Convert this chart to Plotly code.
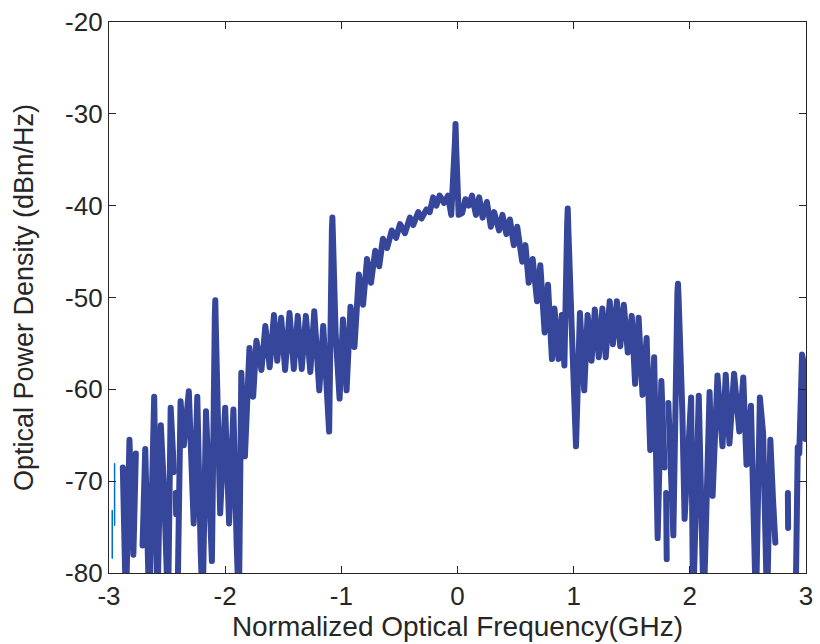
import plotly.graph_objects as go

# Optical spectrum samples (frequency offset in GHz, power density in dBm/Hz).
# None marks samples with no finite power (line breaks); values below -80 dBm/Hz
# fall off the bottom of the axis.
freq_ghz = [
    -2.881, -2.854, -2.824, -2.790, -2.769, None,
    -2.711, -2.688, -2.654, -2.611, -2.583, -2.554, -2.526, -2.492, -2.469, -2.441, None,
    -2.426, -2.422, None,
    -2.411, -2.396, -2.384, -2.356, -2.313, -2.271, -2.240, -2.211, -2.194, -2.165,
    -2.142, -2.114, -2.089, -2.085, -2.081, -2.043, -2.000, -1.966, -1.929, -1.901, -1.882, -1.861,
    -1.830, -1.791, -1.759, -1.731, -1.688, -1.654, -1.617, -1.580, -1.552, -1.518,
    -1.484, -1.446, -1.409, -1.375, -1.341, -1.305, -1.267, -1.233, -1.190, -1.156,
    -1.105, -1.081, -1.077, -1.073, -1.049, -1.015, -0.986, -0.955, -0.921, -0.887, -0.849, -0.813,
    -0.779, -0.745, -0.708, -0.674, -0.642, -0.606, -0.566, -0.529, -0.495, -0.452,
    -0.410, -0.381, -0.338, -0.310, -0.267, -0.239, -0.210, -0.182, -0.154, -0.116,
    -0.082, -0.054, -0.022, -0.017, -0.012, 0.010, 0.040, 0.068, 0.097, 0.125, 0.159, 0.187, 0.216,
    0.253, 0.287, 0.315, 0.358, 0.387, 0.421, 0.451, 0.485, 0.514, 0.557,
    0.585, 0.613, 0.647, 0.685, 0.713, 0.750, 0.779, 0.813, 0.835, 0.869,
    0.898, 0.920, 0.944, 0.949, 0.954, 0.983, 1.005, 1.020, 1.054, 1.091, 1.120, 1.154,
    1.182, 1.216, 1.247, 1.276, 1.310, 1.338, 1.372, 1.401, 1.432, 1.466,
    1.500, 1.529, 1.559, 1.593, 1.628, 1.659, 1.693, 1.723, 1.755, 1.783, None,
    1.796, 1.801, None,
    1.815, 1.858, 1.893, 1.898, 1.903, 1.935, 1.955, 2.011, 2.028, 2.077, 2.096, 2.119,
    2.170, 2.196, 2.238, 2.281, 2.309, 2.341, 2.381, 2.426, 2.460, 2.488,
    2.526, 2.569, 2.603, 2.631, 2.665, 2.693, 2.716, 2.736, None,
    2.844, 2.846, None,
    2.910, 2.929, 2.942, 2.966, 2.985, 2.995,
]

power_dbm_hz = [
    -68.5, -84.0, -65.5, -78.0, -67.0, None,
    -77.0, -66.5, -84.0, -60.8, -84.0, -63.9, -71.0, -84.0, -62.0, -69.0, None,
    -71.3, -73.6, None,
    -84.0, -70.5, -61.3, -66.1, -60.2, -74.6, -60.8, -77.5, -84.0, -62.4,
    -69.5, -78.7, -52.0, -50.3, -53.0, -73.5, -62.0, -74.6, -62.2, -76.9, -84.0, -58.2,
    -67.3, -55.5, -60.8, -54.7, -57.9, -53.1, -57.6, -51.9, -56.9, -52.2,
    -57.9, -51.7, -57.8, -52.0, -57.8, -52.0, -58.1, -51.5, -60.1, -53.1,
    -64.6, -42.5, -41.3, -43.0, -54.0, -61.0, -52.4, -60.1, -51.0, -55.4, -47.5, -50.8,
    -45.8, -48.4, -44.9, -46.6, -43.6, -44.6, -42.7, -43.5, -42.0, -43.0,
    -41.3, -42.1, -40.7, -41.4, -40.4, -40.7, -39.1, -40.0, -38.9, -39.7,
    -38.9, -41.0, -33.0, -31.1, -33.5, -41.0, -40.8, -39.3, -40.0, -38.9, -41.0, -39.1, -41.3,
    -39.6, -42.3, -40.7, -42.7, -41.0, -43.1, -41.5, -44.3, -42.3, -46.1,
    -44.3, -48.4, -45.8, -50.4, -46.5, -53.8, -48.6, -56.7, -51.2, -56.7,
    -51.9, -57.4, -42.0, -40.3, -42.5, -53.2, -59.7, -66.2, -51.7, -60.1, -51.9, -56.9,
    -51.3, -56.5, -51.2, -56.5, -50.4, -55.1, -50.4, -55.3, -50.8, -56.0,
    -52.0, -59.4, -52.2, -60.6, -54.4, -66.6, -56.5, -76.2, -59.1, -68.5, None,
    -71.3, -78.5, None,
    -61.5, -75.9, -49.5, -48.5, -50.0, -62.2, -74.1, -60.9, -84.0, -60.7, -72.0, -84.0,
    -60.3, -71.6, -58.5, -66.2, -58.4, -65.9, -58.3, -64.6, -58.7, -68.2,
    -61.8, -84.0, -60.9, -64.8, -84.0, -65.5, -72.0, -76.7, None,
    -71.3, -75.1, None,
    -84.0, -66.3, -67.0, -56.2, -57.5, -65.4,
]

# Short reference trace visible at the left edge
ref_freq_ghz = [-2.972, -2.972, None, -2.952, -2.952]
ref_power_dbm_hz = [-78.4, -73.2, None, -74.8, -68.1]

x_ticks = [-3, -2, -1, 0, 1, 2, 3]
x_tick_text = ["-3", "-2", "-1", "0", "1", "2", "3"]
y_ticks = [-80, -70, -60, -50, -40, -30, -20]
y_tick_text = ["-80", "-70", "-60", "-50", "-40", "-30", "-20"]

axis_color = "#262626"
font_family = "Liberation Sans, Arial, Helvetica, sans-serif"

fig = go.Figure()
fig.add_trace(go.Scatter(
    x=ref_freq_ghz, y=ref_power_dbm_hz, mode="lines",
    line=dict(color="#0072BD", width=1.5), connectgaps=False,
    showlegend=False, hoverinfo="skip",
))
fig.add_trace(go.Scatter(
    x=freq_ghz, y=power_dbm_hz, mode="lines",
    line=dict(color="#36469b", width=6), connectgaps=False,
    showlegend=False,
))

axis_common = dict(
    showline=True, linecolor=axis_color, linewidth=1.2, mirror="ticks",
    ticks="inside", ticklen=7, tickwidth=1.2, tickcolor=axis_color,
    showgrid=False, zeroline=False,
    tickfont=dict(family=font_family, size=26, color=axis_color),
)

fig.update_layout(
    width=820, height=644,
    margin=dict(l=109, r=7, t=20, b=71),
    paper_bgcolor="white", plot_bgcolor="white",
    font=dict(family=font_family, color=axis_color),
    xaxis=dict(
        range=[-3, 3], tickvals=x_ticks, ticktext=x_tick_text,
        title=dict(text="Normalized Optical Frequency(GHz)",
                   font=dict(family=font_family, size=28, color=axis_color),
                   standoff=4),
        **axis_common,
    ),
    yaxis=dict(
        range=[-80, -20], tickvals=y_ticks, ticktext=y_tick_text,
        title=dict(text="Optical Power Density (dBm/Hz)",
                   font=dict(family=font_family, size=27, color=axis_color),
                   standoff=23),
        **axis_common,
    ),
)

round_joins = (
    "document.querySelectorAll('.scatterlayer path.js-line').forEach(function(p){"
    "p.style.strokeLinejoin='round';p.style.strokeLinecap='round';});"
)
fig.write_html("out.html", post_script=round_joins)
